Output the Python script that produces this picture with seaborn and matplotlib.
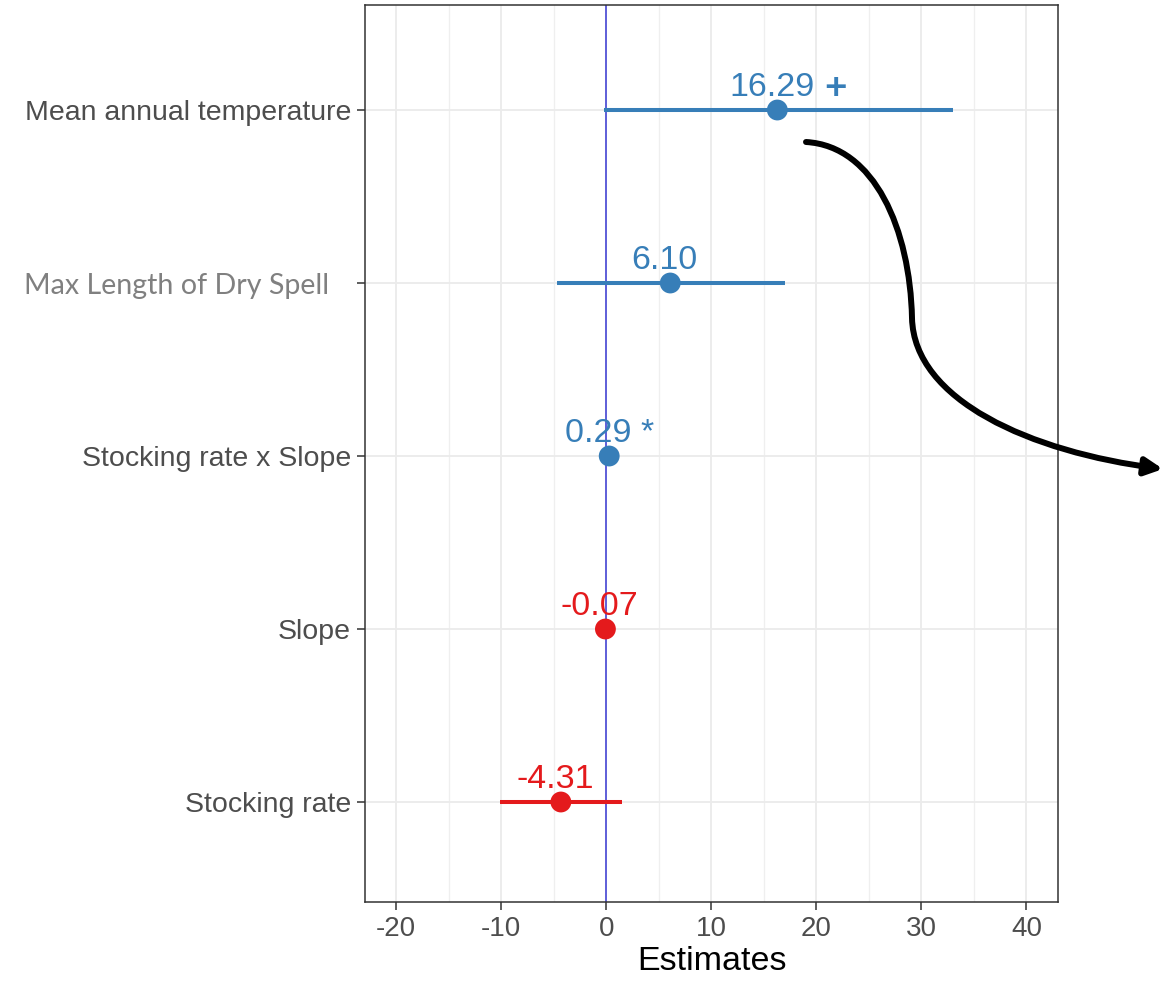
import numpy as np
import pandas as pd
import seaborn as sns
import matplotlib.pyplot as plt
from matplotlib.path import Path
from matplotlib.patches import FancyArrowPatch
from matplotlib.ticker import MultipleLocator

# model terms, top to bottom
terms = ["Mean annual temperature", "Max Length of Dry Spell",
         "Stocking rate x Slope", "Slope", "Stocking rate"]
estimates = [16.29, 6.10, 0.29, -0.07, -4.31]
ci_low = [-0.2, -4.7, 0.05, -0.15, -10.1]
ci_high = [33.0, 17.0, 0.53, 0.01, 1.5]
value_labels = ["16.29", "6.10", "0.29 *", "-0.07", "-4.31"]
x_ticks = [-20, -10, 0, 10, 20, 30, 40]

BLUE = "#377EB8"
RED = "#E41A1C"

df = pd.DataFrame({"term": terms, "estimate": estimates,
                   "low": ci_low, "high": ci_high, "label": value_labels})
df["pos"] = np.arange(len(df))
df["sign"] = np.where(df["estimate"] > 0, "pos", "neg")

sns.set_style("ticks")
plt.rcParams["font.family"] = ["Liberation Sans", "DejaVu Sans"]

fig = plt.figure(figsize=(11.67, 9.86), dpi=100)
ax = fig.add_axes([365 / 1167, 84 / 986, 693 / 1167, 897 / 986])

# grid like ggplot theme_bw
ax.xaxis.set_minor_locator(MultipleLocator(5))
ax.grid(which="major", axis="both", color="#EBEBEB", lw=1.3, zorder=0)
ax.grid(which="minor", axis="x", color="#EFEFEF", lw=0.9, zorder=0)
ax.set_axisbelow(True)

ax.axvline(0, color="#4747D6", lw=1.2, zorder=1)

colors = {"pos": BLUE, "neg": RED}
for _, r in df.iterrows():
    ax.hlines(r["pos"], r["low"], r["high"], color=colors[r["sign"]], lw=2.9, zorder=2)

sns.scatterplot(data=df, x="estimate", y="pos", hue="sign", palette=colors,
                s=225, linewidth=0, legend=False, ax=ax, zorder=3)

for _, r in df.iterrows():
    dx = 0 if "*" in r["label"] else -4
    ax.annotate(r["label"], (r["estimate"], r["pos"]), xytext=(dx, 10),
                textcoords="offset points", ha="center", va="baseline",
                fontsize=24.5, color=colors[r["sign"]], zorder=4)

# pasted "+" next to the top estimate
ax.annotate("+", (estimates[0], 0), xytext=(42, 8), textcoords="offset points",
            ha="center", va="baseline", fontsize=28, fontweight="bold",
            family=["Lato", "DejaVu Sans"], color=BLUE)

ax.set_xlim(-22.95, 43.0)
ax.set_ylim(4.578, -0.607)
ax.set_xticks(x_ticks)
ax.set_xticklabels([str(t) for t in x_ticks], fontsize=20, color="#4D4D4D")
ax.set_yticks(df["pos"])
ax.set_yticklabels([t if i != 1 else t + "   " for i, t in enumerate(terms)],
                   fontsize=20.5, color="#4D4D4D")
dry = ax.get_yticklabels()[1]
dry.set_family(["Lato", "DejaVu Sans"])
dry.set_color("#808080")
dry.set_fontsize(20.6)

ax.tick_params(axis="both", which="major", length=6, width=1.1, color="#333333", pad=4)
ax.tick_params(axis="x", which="minor", length=0)
ax.set_ylabel("")
ax.set_xlabel("Estimates", fontsize=24.5, color="black", labelpad=3)
for sp in ax.spines.values():
    sp.set_color("#333333")
    sp.set_linewidth(1.1)

# hand-drawn curved arrow (figure pixels, y from top)
W, H = 1167, 986
pts = [(806, 142), (875, 146), (910, 230), (912, 318),
       (914, 400), (1030, 452), (1163, 469)]
verts = [(x / W, 1 - y / H) for x, y in pts]
codes = [Path.MOVETO] + [Path.CURVE4] * 6
arrow = FancyArrowPatch(path=Path(verts, codes), arrowstyle="-|>", mutation_scale=26,
                        lw=4.3, color="black", transform=fig.transFigure,
                        shrinkA=0, shrinkB=0, clip_on=False)
fig.add_artist(arrow)

fig.savefig("out.png", dpi=100)
